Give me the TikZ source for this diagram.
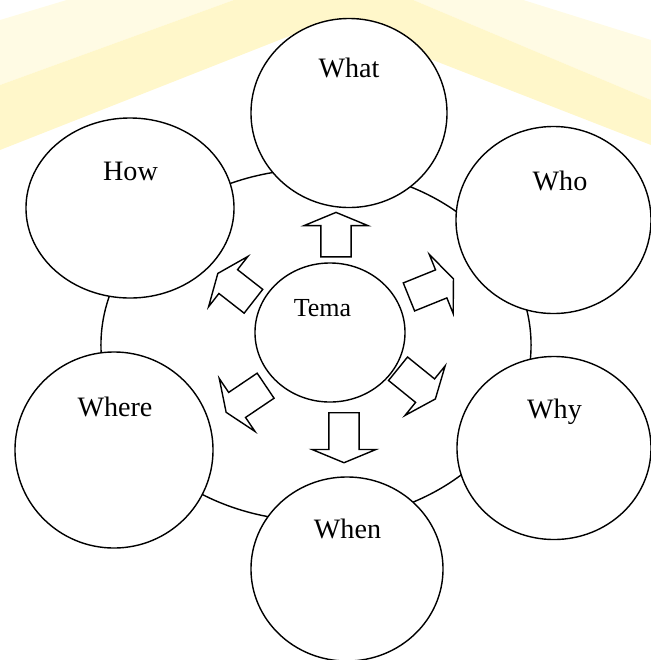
\documentclass[tikz,border=0pt]{standalone}
\usepackage{fontspec}
\setmainfont{Liberation Serif}
\usepackage{tikz}
\usetikzlibrary{shapes.geometric,shapes.arrows,positioning}
\definecolor{wmyellow}{RGB}{255,247,202}
\definecolor{wmpale}{RGB}{255,251,228}

\begin{document}
\begin{tikzpicture}[x=0.025cm, y=-0.025cm,
    bubble/.style={ellipse, draw, line width=1pt, fill=white, inner sep=0pt},
    word/.style={anchor=base, font=\fontsize{20}{24}\selectfont},
    blockarrow/.style={single arrow, draw, line width=1pt, fill=white, anchor=tail,
        inner xsep=0pt, inner ysep=0.36cm, single arrow head extend=0.42cm,
        single arrow tip angle=135}]
\useasboundingbox (0,0) rectangle (651,660);
% faded logo band behind the chart
\fill[wmpale] (0,20) -- (300,-70) -- (651,40) -- (651,100) -- (330,-35) -- (0,85) -- cycle;
\fill[wmyellow] (0,85) -- (330,-35) -- (651,100) -- (651,145) -- (330,20) -- (0,150) -- cycle;

\node[ellipse, draw, line width=1pt, minimum width=10.75cm, minimum height=8.8cm] (ring) at (316,345) {};

\node[bubble, minimum width=4.9cm, minimum height=4.725cm] (what) at (349,113) {};
\node[bubble, minimum width=5.2cm, minimum height=4.5cm] (how) at (130,208) {};
\node[bubble, minimum width=4.875cm, minimum height=4.675cm] (who) at (553.5,220) {};
\node[bubble, minimum width=4.95cm, minimum height=4.9cm] (where) at (114,450) {};
\node[bubble, minimum width=4.85cm, minimum height=4.575cm] (why) at (554,448) {};
\node[bubble, minimum width=4.8cm, minimum height=4.6cm] (when) at (347,569) {};
\node[bubble, minimum width=3.75cm, minimum height=3.475cm] (tema) at (330,332.5) {};

\node[word] (what-t) at (349,77) {What};
\node[word] (how-t) at (130.5,180) {How};
\node[word] (who-t) at (560,190) {Who};
\node[word] (where-t) at (115,416) {Where};
\node[word] (why-t) at (554.5,418) {Why};
\node[word] (when-t) at (347.5,538.5) {When};
\node[word, font=\fontsize{18.5}{22}\selectfont] (tema-t) at (322.5,316) {Tema};

\foreach \nm/\ang/\len/\px/\py in {up/90/1.11cm/336/257.5, upright/22/1.2cm/408.3/297.2,
    downright/-39/1.2cm/397.5/368.3, down/-90/1.25cm/344/412,
    downleft/214/1.19cm/266.2/385.3, upleft/142/1.13cm/254/301.7}
    \node[blockarrow, rotate=\ang, minimum height=\len] (arr-\nm) at (\px,\py) {};

\end{tikzpicture}
\end{document}
